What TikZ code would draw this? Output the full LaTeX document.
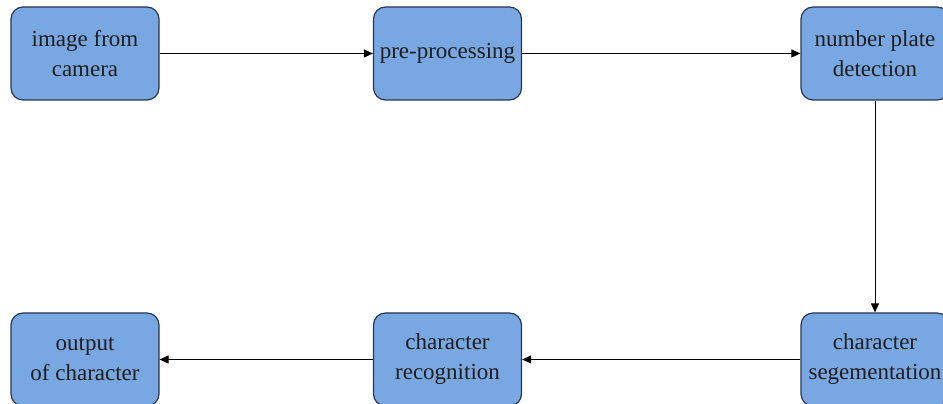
\documentclass[tikz,border=0pt]{standalone}
\usepackage{fontspec}
\setmainfont{Liberation Serif}
\usetikzlibrary{arrows.meta}
\definecolor{boxfill}{RGB}{120,167,225}
\definecolor{boxline}{RGB}{40,55,85}
\definecolor{txt}{RGB}{30,30,30}
\tikzset{
  procbox/.style={draw=boxline, line width=1.2pt, fill=boxfill, rounded corners=12pt,
    minimum width=148pt, minimum height=93pt, align=center, text=txt,
    font=\fontsize{23}{30}\selectfont, inner sep=0pt},
  flow/.style={draw=black, line width=1pt, -{Triangle[length=9pt,width=8pt]}}
}
\begin{document}
\begin{tikzpicture}[x=1pt,y=1pt]
\useasboundingbox (0,0) rectangle (943,404);
\clip (0,0) rectangle (943,404);
\node[procbox] (cam) at (85,350.5) {image from\\camera};
\node[procbox] (pre) at (447.5,350.5) {pre-processing};
\node[procbox] (npd) at (875,350.5) {number plate\\detection};
\node[procbox] (out) at (85,44.5) {output\\of character};
\node[procbox] (rec) at (447.5,44.5) {character\\recognition};
\node[procbox] (seg) at (875,44.5) {character\\segementation};
\draw[flow] (cam) -- (pre);
\draw[flow] (pre) -- (npd);
\draw[flow] (npd) -- (seg);
\draw[flow] (seg) -- (rec);
\draw[flow] (rec) -- (out);
\end{tikzpicture}
\end{document}
